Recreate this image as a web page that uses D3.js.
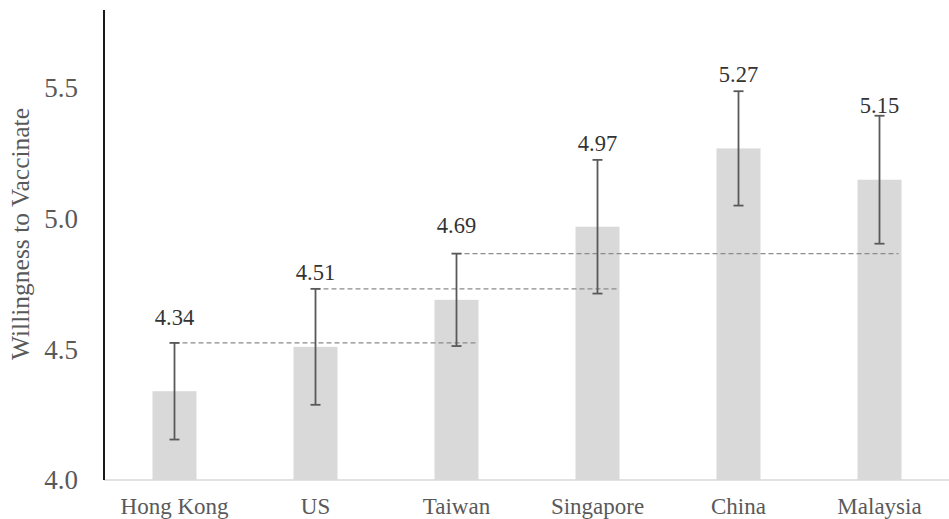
<!DOCTYPE html>
<html>
<head>
<meta charset="utf-8">
<script src="https://cdn.jsdelivr.net/npm/d3@7"></script>
<style>
  html, body { margin: 0; padding: 0; background: #fff; }
  svg { display: block; }
</style>
</head>
<body>
<svg id="chart" width="949" height="519"></svg>
<script>
// Mean willingness to vaccinate by region, with 95% CI half-widths
const regions = ["Hong Kong", "US", "Taiwan", "Singapore", "China", "Malaysia"];
const means = [4.34, 4.51, 4.69, 4.97, 5.27, 5.15];
const ciHalf = [0.185, 0.222, 0.177, 0.256, 0.219, 0.245];
const yTicks = [4.0, 4.5, 5.0, 5.5];

// Reference lines: upper CI bound of one region carried across to another
const refFrom = ["Hong Kong", "US", "Taiwan"];
const refTo = ["Taiwan", "Singapore", "Malaysia"];

const SERIF = "'Liberation Serif', 'Times New Roman', serif";

const svg = d3.select("#chart");
const W = 949, H = 519;
const plotLeft = 104, plotRight = 950, plotTop = 10, plotBottom = 480;

const x = d3.scaleBand()
  .domain(regions)
  .range([plotLeft, plotRight])
  .paddingInner(0.688)
  .paddingOuter(0.344);

const y = d3.scaleLinear()
  .domain([4.0, 5.8])
  .range([plotBottom, plotTop]);

const rows = regions.map((r, i) => ({ region: r, mean: means[i], ci: ciHalf[i] }));
const byRegion = new Map(rows.map(d => [d.region, d]));

// bars
svg.append("g")
  .selectAll("rect")
  .data(rows)
  .join("rect")
  .attr("x", d => x(d.region))
  .attr("width", x.bandwidth())
  .attr("y", d => y(d.mean))
  .attr("height", d => y(4.0) - y(d.mean))
  .attr("fill", "#d9d9d9");

// horizontal baseline
svg.append("line")
  .attr("x1", plotLeft).attr("x2", W)
  .attr("y1", y(4.0)).attr("y2", y(4.0))
  .attr("stroke", "#d9d9d9")
  .attr("stroke-width", 1.5);

// dashed comparison lines
svg.append("g")
  .selectAll("line")
  .data(refFrom.map((f, i) => ({ from: byRegion.get(f), to: byRegion.get(refTo[i]) })))
  .join("line")
  .attr("x1", d => x(d.from.region) + x.bandwidth() / 2)
  .attr("x2", d => x(d.to.region) + x.bandwidth() - 3)
  .attr("y1", d => y(d.from.mean + d.from.ci))
  .attr("y2", d => y(d.from.mean + d.from.ci))
  .attr("stroke", "#8c8c8c")
  .attr("stroke-width", 1.3)
  .attr("stroke-dasharray", "5,3");

// error bars
const eb = svg.append("g")
  .attr("stroke", "#595959")
  .attr("stroke-width", 1.8)
  .selectAll("g")
  .data(rows)
  .join("g")
  .attr("transform", d => `translate(${x(d.region) + x.bandwidth() / 2},0)`);
eb.append("line")
  .attr("y1", d => y(d.mean - d.ci))
  .attr("y2", d => y(d.mean + d.ci));
eb.append("line")
  .attr("x1", -5).attr("x2", 5)
  .attr("y1", d => y(d.mean + d.ci))
  .attr("y2", d => y(d.mean + d.ci));
eb.append("line")
  .attr("x1", -5).attr("x2", 5)
  .attr("y1", d => y(d.mean - d.ci))
  .attr("y2", d => y(d.mean - d.ci));

// value labels sit a fixed distance above each mean; the Singapore label
// is lifted a little so it clears its error-bar cap
const labelLift = { "Singapore": 9 };
svg.append("g")
  .selectAll("text")
  .data(rows)
  .join("text")
  .attr("x", d => x(d.region) + x.bandwidth() / 2)
  .attr("y", d => y(d.mean + 0.255) - (labelLift[d.region] || 0))
  .attr("text-anchor", "middle")
  .style("font-family", SERIF)
  .style("font-size", "22.5px")
  .attr("fill", "#333333")
  .text(d => d.mean.toFixed(2));

// y axis
const yAxis = svg.append("g")
  .attr("transform", `translate(${plotLeft},0)`)
  .call(d3.axisLeft(y).tickValues(yTicks).tickFormat(d3.format(".1f")).tickSize(0).tickPadding(26));
yAxis.select(".domain").remove();
yAxis.selectAll("text")
  .style("font-family", SERIF)
  .style("font-size", "27px")
  .attr("fill", "#595959");

svg.append("line")
  .attr("x1", plotLeft).attr("x2", plotLeft)
  .attr("y1", plotTop).attr("y2", plotBottom)
  .attr("stroke", "#1a1a1a")
  .attr("stroke-width", 2);

// x axis labels
const xAxis = svg.append("g")
  .attr("transform", `translate(0,${plotBottom})`)
  .call(d3.axisBottom(x).tickSize(0));
xAxis.select(".domain").remove();
xAxis.selectAll("text")
  .attr("y", 34)
  .attr("dy", null)
  .style("font-family", SERIF)
  .style("font-size", "23px")
  .attr("fill", "#595959");

// y axis title
svg.append("text")
  .attr("transform", "rotate(-90)")
  .attr("x", -234)
  .attr("y", 29)
  .attr("text-anchor", "middle")
  .style("font-family", SERIF)
  .style("font-size", "25.5px")
  .attr("fill", "#595959")
  .text("Willingness to Vaccinate");
</script>
</body>
</html>
